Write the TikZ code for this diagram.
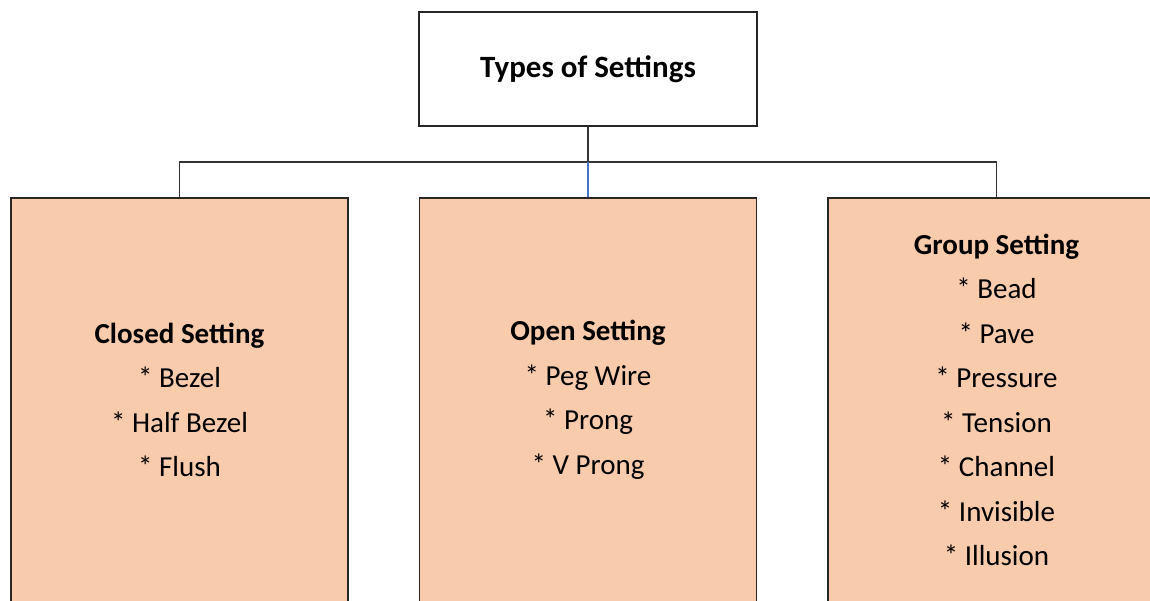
\documentclass[tikz,border=0pt]{standalone}
\usepackage{fontspec}
\setmainfont{Carlito}
\definecolor{peach}{HTML}{F8CBAD}
\definecolor{linkblue}{HTML}{4472C4}
\begin{document}
\begin{tikzpicture}[x=1pt,y=-1pt,
  conn/.style={draw=black!80,line width=1.3pt},
  topbox/.style={draw=black!85,line width=1.3pt,fill=white,minimum width=338pt,minimum height=114pt,inner sep=0pt,font=\fontsize{31}{36}\selectfont\bfseries},
  catbox/.style={draw=black!85,line width=1.3pt,fill=peach,minimum width=337pt,minimum height=404pt,inner sep=0pt,align=center,font=\fontsize{29}{44.5}\selectfont}]
\useasboundingbox (0,0) rectangle (1150,600);
\clip (0,0) rectangle (1150,600);
\node[topbox] (top) at (588,69) {Types of Settings};
\node[catbox] (closed) at (179.5,400) {\textbf{Closed Setting}\\* Bezel\\* Half Bezel\\* Flush};
\node[catbox] (open) at (588,400) {\textbf{Open Setting}\\* Peg Wire\\* Prong\\* V Prong};
\node[catbox] (group) at (996.5,400) {\textbf{Group Setting}\\* Bead\\* Pave\\* Pressure\\* Tension\\* Channel\\* Invisible\\* Illusion};
\coordinate (hub) at (588,162);
\draw[conn] (top.south) -- (hub);
\draw[conn] (closed.north) |- (hub) -| (group.north);
\draw[draw=linkblue,line width=1.3pt] (hub) -- (open.north);
\end{tikzpicture}
\end{document}
